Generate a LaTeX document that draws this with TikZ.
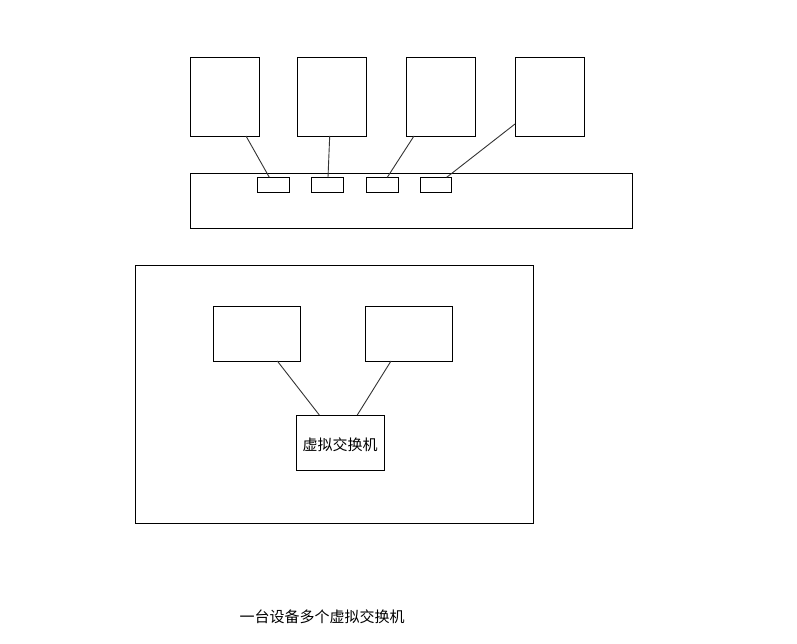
\documentclass[tikz,border=0pt]{standalone}
\usepackage{fontspec}
\newfontfamily\cjk{Noto Sans CJK SC}
\begin{document}
\begin{tikzpicture}[x=1pt,y=-1pt,
  box/.style={draw=black,line width=0.9pt,fill=white,inner sep=0pt},
  link/.style={draw=black!80,line width=0.9pt},
  lbl/.style={font=\cjk\fontsize{15}{17}\selectfont,inner sep=0pt}]
\useasboundingbox (0,0) rectangle (797,644);
% top hosts
\node[box,minimum width=69pt,minimum height=79pt] (h1) at (224.5,96.5) {};
\node[box,minimum width=69pt,minimum height=79pt] (h2) at (331.5,96.5) {};
\node[box,minimum width=69pt,minimum height=79pt] (h3) at (440.5,96.5) {};
\node[box,minimum width=69pt,minimum height=79pt] (h4) at (549.5,96.5) {};
% switch bar
\node[box,minimum width=442pt,minimum height=55pt] (bar) at (411,200.75) {};
% ports
\node[box,minimum width=32pt,minimum height=15pt] (p1) at (273.5,184.75) {};
\node[box,minimum width=32pt,minimum height=15pt] (p2) at (327.5,184.75) {};
\node[box,minimum width=31.5pt,minimum height=15pt] (p3) at (382.2,184.75) {};
\node[box,minimum width=31.5pt,minimum height=15pt] (p4) at (436,184.75) {};
\coordinate (a1) at (246,136); \coordinate (b1) at (269.3,177.3);
\coordinate (a2) at (329.7,136); \coordinate (b2) at (328,177.3);
\coordinate (a3) at (414,136); \coordinate (b3) at (387.3,177.3);
\coordinate (a4) at (515,124); \coordinate (b4) at (446.7,177.3);
\draw[link] (a1) -- (b1);
\draw[link] (a2) -- (b2);
\draw[link] (a3) -- (b3);
\draw[link] (a4) -- (b4);
% big device
\node[box,minimum width=398pt,minimum height=258pt] (dev) at (334,394) {};
\node[box,minimum width=87pt,minimum height=55pt] (v1) at (256.5,333.5) {};
\node[box,minimum width=87pt,minimum height=55pt] (v2) at (408.5,333.5) {};
\node[box,minimum width=87.6pt,minimum height=55pt] (vs) at (340.5,442.5) {};
\node[lbl] (vslbl) at (340,444.3) {虚拟交换机};
\coordinate (c1) at (277.3,361); \coordinate (d1) at (319.3,415);
\coordinate (c2) at (391,361); \coordinate (d2) at (357.3,415);
\draw[link] (c1) -- (d1);
\draw[link] (c2) -- (d2);
% caption
\node[lbl] (cap) at (322,617) {一台设备多个虚拟交换机};
\end{tikzpicture}
\end{document}
